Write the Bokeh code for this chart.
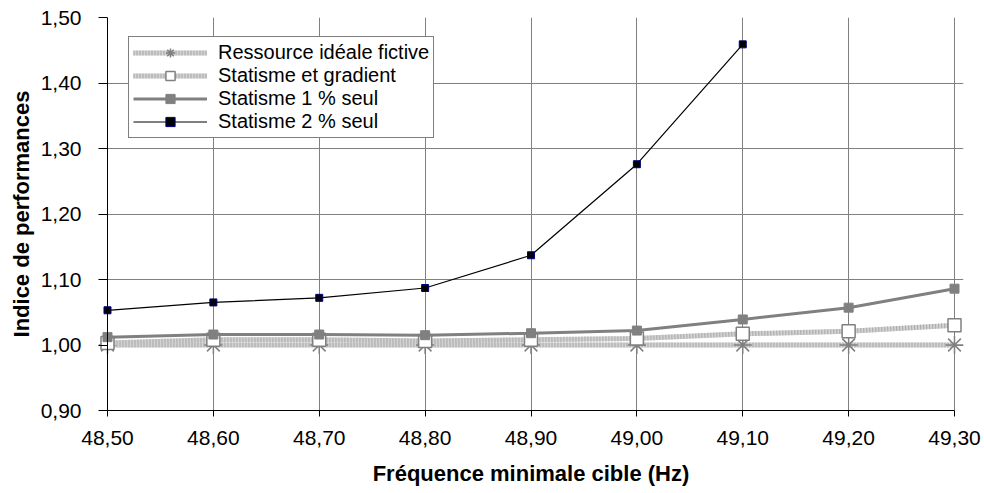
from bokeh.plotting import figure
from bokeh.models import Range1d, FixedTicker, CustomJSTickFormatter, Legend, LegendItem, Span
from bokeh.embed import file_html
from bokeh.resources import INLINE

# ---- data ----
freq = [48.50, 48.60, 48.70, 48.80, 48.90, 49.00, 49.10, 49.20, 49.30]
ideal = [1.000, 1.000, 1.000, 1.000, 1.000, 1.000, 1.000, 1.000, 1.000]
gradient = [1.003, 1.008, 1.008, 1.006, 1.008, 1.010, 1.017, 1.021, 1.030]
stat1 = [1.012, 1.016, 1.016, 1.015, 1.018, 1.022, 1.039, 1.057, 1.086]
freq2 = [48.50, 48.60, 48.70, 48.80, 48.90, 49.00, 49.10]
stat2 = [1.053, 1.065, 1.072, 1.087, 1.137, 1.276, 1.459]
y_ticks = [0.90, 1.00, 1.10, 1.20, 1.30, 1.40, 1.50]
labels = ["Ressource idéale fictive", "Statisme et gradient",
          "Statisme 1 % seul", "Statisme 2 % seul"]

FONT = "Liberation Sans"

# small margin so the markers on the first/last abscissa are not cut by the frame
x_pad = 0.0085

p = figure(width=984, height=493, output_backend="svg", toolbar_location=None,
           x_range=Range1d(freq[0] - x_pad, freq[-1] + x_pad),
           y_range=Range1d(y_ticks[0], y_ticks[-1]),
           min_border_left=98, min_border_right=21, min_border_top=17, min_border_bottom=83)

p.outline_line_color = None
p.background_fill_color = "white"
p.border_fill_color = "white"

fmt = CustomJSTickFormatter(code="return tick.toFixed(2).replace('.', ',');")
for ax, ticks in ((p.xaxis[0], freq), (p.yaxis[0], y_ticks)):
    ax.ticker = FixedTicker(ticks=ticks)
    ax.formatter = fmt
    ax.minor_tick_line_color = None
    ax.axis_line_color = "black"
    ax.major_tick_line_color = "black"
    ax.major_label_text_font = FONT
    ax.major_label_text_font_size = "21px"
    ax.major_label_text_color = "black"
    ax.axis_label_text_font = FONT
    ax.axis_label_text_font_size = "22px"
    ax.axis_label_text_font_style = "bold"
    ax.axis_label_text_color = "black"

# x axis: line only between the first and last abscissa
p.xaxis.bounds = (freq[0], freq[-1])
p.xaxis.major_tick_out = 6
p.xaxis.major_tick_in = 0
p.xaxis.major_label_standoff = 14
p.xaxis.axis_label_standoff = 13
p.xaxis.axis_label = "Fréquence minimale cible (Hz)"

# y axis sits at the frame edge; its ticks reach in to the 48,50 line
p.yaxis.axis_line_color = None
p.yaxis.major_tick_out = 0
p.yaxis.major_tick_in = 9
p.yaxis.major_label_standoff = 17
p.yaxis.axis_label_standoff = 4
p.yaxis.axis_label = "Indice de performances"
p.add_layout(Span(location=freq[0], dimension="height", line_color="black", line_width=1))

p.xgrid.ticker = FixedTicker(ticks=freq)
p.ygrid.ticker = FixedTicker(ticks=y_ticks)
p.ygrid.bounds = (freq[0], freq[-1])
p.grid.grid_line_color = "#808080"
p.grid.grid_line_width = 1

# Ressource idéale fictive
r1a = p.line(freq, ideal, line_color="#d2d2d2", line_width=5)
r1b = p.line(freq, ideal, line_color="#a8a8a8", line_width=5, line_dash="1 2")
r1m = p.scatter(freq, ideal, marker="asterisk", size=18, line_color="#808080", line_width=1.5)

# Statisme et gradient
r2a = p.line(freq, gradient, line_color="#d2d2d2", line_width=5)
r2b = p.line(freq, gradient, line_color="#a8a8a8", line_width=5, line_dash="1 2")
r2m = p.scatter(freq, gradient, marker="square", size=13, fill_color="white",
                line_color="#808080", line_width=1.5)

# Statisme 1 %
r3 = p.line(freq, stat1, line_color="#808080", line_width=3)
r3m = p.scatter(freq, stat1, marker="square", size=9, fill_color="#808080",
                line_color="#808080", line_width=1)

# Statisme 2 %
r4 = p.line(freq2, stat2, line_color="black", line_width=1.2)
r4m = p.scatter(freq2, stat2, marker="square", size=7, fill_color="black",
                line_color="#000080", line_width=1)

legend = Legend(items=[
    LegendItem(label=labels[0], renderers=[r1a, r1b, r1m]),
    LegendItem(label=labels[1], renderers=[r2a, r2b, r2m]),
    LegendItem(label=labels[2], renderers=[r3, r3m]),
    LegendItem(label=labels[3], renderers=[r4, r4m]),
], location=(30, 272))
legend.margin = 0
legend.padding = 4
legend.spacing = 0
legend.glyph_width = 74
legend.glyph_height = 23
legend.label_height = 20
legend.label_standoff = 11
legend.label_text_font = FONT
legend.label_text_font_size = "20px"
legend.label_text_color = "black"
legend.border_line_color = "black"
legend.border_line_width = 1
legend.background_fill_color = "white"
legend.background_fill_alpha = 1
p.add_layout(legend)

open("out.html", "w").write(file_html(p, INLINE))
